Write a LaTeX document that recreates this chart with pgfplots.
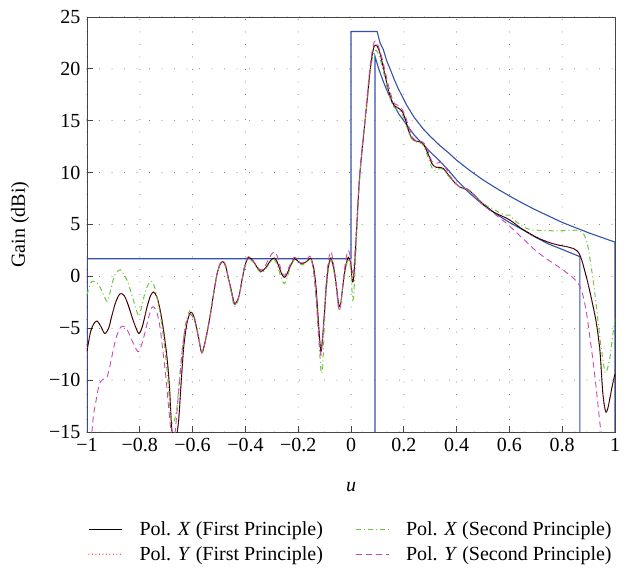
\documentclass[border=0pt]{standalone}
\usepackage{fontspec}
\setmainfont{Liberation Serif}
\usepackage{pgfplots}
\pgfplotsset{compat=1.18}
\usepackage{pgfplotstable}
\definecolor{maskblue}{RGB}{52,82,170}
\definecolor{mygreen}{RGB}{110,196,60}
\definecolor{mymag}{RGB}{204,72,176}
\definecolor{axgray}{RGB}{70,70,70}

\pgfplotstableread{
u g
-1.000 -7.2
-0.987 -5.4
-0.975 -4.6
-0.962 -4.3
-0.948 -4.8
-0.933 -5.5
-0.918 -5.0
-0.905 -3.7
-0.890 -2.4
-0.874 -1.66
-0.858 -1.9
-0.842 -2.9
-0.823 -4.4
-0.804 -5.5
-0.790 -4.8
-0.773 -3.0
-0.760 -1.9
-0.748 -1.5
-0.735 -2.0
-0.722 -3.35
-0.710 -5.2
-0.697 -7.8
-0.688 -10.5
-0.681 -13.9
-0.676 -15.5
-0.670 -17
-0.664 -16
-0.653 -13.9
-0.644 -10.5
-0.634 -6.9
-0.622 -4.6
-0.609 -3.5
-0.600 -3.6
-0.592 -4.15
-0.578 -5.8
-0.565 -7.35
-0.550 -6.0
-0.533 -3.7
-0.520 -1.6
-0.508 0.16
-0.497 1.1
-0.486 1.44
-0.475 1.0
-0.464 -0.2
-0.452 -1.5
-0.442 -2.6
-0.432 -2.4
-0.423 -1.77
-0.414 -0.5
-0.404 0.8
-0.396 1.5
-0.389 1.84
-0.378 1.7
-0.366 1.29
-0.354 0.8
-0.341 0.48
-0.328 0.7
-0.315 1.13
-0.302 1.6
-0.290 1.77
-0.280 1.4
-0.271 0.8
-0.262 0.2
-0.252 -0.1
-0.243 0.2
-0.233 0.8
-0.222 1.4
-0.214 1.71
-0.206 1.6
-0.199 1.39
-0.190 1.25
-0.183 1.23
-0.173 1.35
-0.164 1.52
-0.157 1.71
-0.151 1.71
-0.145 1.2
-0.139 0.48
-0.132 -1.2
-0.126 -3.39
-0.120 -5.6
-0.114 -7.26
-0.108 -6.0
-0.101 -3.7
-0.095 -1.4
-0.088 0.48
-0.082 1.4
-0.076 1.77
-0.070 1.3
-0.063 0.48
-0.055 -1.0
-0.048 -2.5
-0.044 -2.9
-0.038 -2.5
-0.032 -1.13
-0.025 0.2
-0.019 1.13
-0.014 1.6
-0.010 1.84
-0.005 1.6
0.000 1.13
0.004 -0.3
0.008 -0.5
0.012 0.5
0.018 3.0
0.031 9.0
0.042 12.2
0.053 14.9
0.063 17.5
0.072 19.8
0.080 21.3
0.088 22.2
0.095 22.3
0.103 22.0
0.110 21.5
0.120 20.4
0.129 19.4
0.138 18.3
0.148 17.4
0.158 16.7
0.167 16.4
0.177 16.25
0.186 16.1
0.196 15.8
0.205 15.2
0.214 14.4
0.223 13.7
0.232 13.25
0.242 13.07
0.255 13.0
0.268 12.9
0.278 12.6
0.287 12.1
0.297 11.5
0.306 10.9
0.316 10.6
0.325 10.5
0.338 10.5
0.350 10.4
0.362 10.0
0.375 9.6
0.394 9.0
0.413 8.6
0.428 8.45
0.444 8.35
0.460 8.0
0.476 7.6
0.495 7.1
0.514 6.7
0.540 6.2
0.564 5.9
0.590 5.6
0.615 5.2
0.640 4.7
0.666 4.3
0.700 3.8
0.741 3.35
0.780 3.05
0.817 2.86
0.845 2.65
0.862 2.3
0.875 1.5
0.886 0.47
0.896 -0.5
0.905 -1.5
0.918 -3.0
0.930 -4.6
0.943 -7.2
0.953 -11.0
0.960 -12.5
0.966 -13.1
0.973 -12.7
0.981 -11.7
0.990 -10.5
1.000 -9.4
}\polXfirst

\pgfplotstableread{
u g
-1.000 -1.76
-0.990 -0.9
-0.981 -0.48
-0.970 -0.5
-0.956 -0.8
-0.940 -1.6
-0.924 -2.4
-0.912 -1.5
-0.899 -0.16
-0.887 0.4
-0.874 0.64
-0.858 0.1
-0.842 -0.8
-0.823 -2.4
-0.804 -3.83
-0.792 -2.8
-0.779 -1.44
-0.766 -0.7
-0.754 -0.48
-0.742 -1.2
-0.729 -2.7
-0.716 -4.8
-0.703 -7.5
-0.692 -10.5
-0.684 -13.3
-0.676 -14.2
-0.668 -13.8
-0.659 -12.6
-0.650 -10.0
-0.640 -7.2
-0.628 -4.8
-0.615 -3.5
-0.605 -3.3
-0.592 -4.0
-0.578 -5.7
-0.565 -7.3
-0.550 -6.0
-0.533 -3.7
-0.520 -1.6
-0.508 0.1
-0.497 1.0
-0.486 1.35
-0.475 0.9
-0.464 -0.4
-0.452 -1.8
-0.442 -2.9
-0.432 -2.6
-0.423 -1.9
-0.414 -0.6
-0.404 0.7
-0.392 1.5
-0.385 1.7
-0.366 1.2
-0.354 0.7
-0.341 0.35
-0.328 0.55
-0.315 1.0
-0.302 1.45
-0.290 1.6
-0.280 1.1
-0.271 0.4
-0.262 -0.3
-0.252 -0.7
-0.243 -0.2
-0.233 0.6
-0.222 1.3
-0.214 1.6
-0.206 1.5
-0.199 1.3
-0.190 1.15
-0.183 1.1
-0.173 1.3
-0.164 1.5
-0.157 1.65
-0.151 1.6
-0.145 1.0
-0.139 0.0
-0.132 -2.0
-0.126 -4.2
-0.120 -6.8
-0.114 -9.0
-0.110 -9.3
-0.105 -7.5
-0.101 -4.8
-0.095 -2.0
-0.088 0.2
-0.082 1.2
-0.076 1.6
-0.070 1.1
-0.063 0.2
-0.055 -1.3
-0.048 -2.9
-0.044 -3.2
-0.038 -2.7
-0.032 -1.3
-0.025 0.0
-0.019 0.9
-0.014 1.4
-0.010 1.6
-0.005 1.3
0.000 0.4
0.004 -1.5
0.007 -2.3
0.011 -1.5
0.018 2.0
0.031 8.6
0.042 12.0
0.053 14.7
0.063 17.2
0.072 19.4
0.080 20.9
0.088 21.7
0.095 21.8
0.103 21.5
0.110 21.0
0.120 20.0
0.129 19.1
0.138 18.1
0.148 17.2
0.158 16.5
0.167 16.2
0.177 16.1
0.186 15.9
0.196 15.5
0.205 14.9
0.214 14.2
0.223 13.6
0.232 13.2
0.242 13.0
0.255 12.9
0.268 12.8
0.278 12.4
0.287 11.8
0.297 11.1
0.306 10.5
0.316 10.2
0.325 10.3
0.338 10.4
0.350 10.3
0.362 9.9
0.375 9.5
0.394 9.0
0.413 8.6
0.428 8.45
0.444 8.35
0.460 8.0
0.476 7.6
0.495 7.2
0.514 6.8
0.540 6.5
0.564 6.1
0.590 5.9
0.602 5.9
0.620 5.4
0.653 4.78
0.680 4.5
0.703 4.45
0.750 4.4
0.804 4.4
0.855 4.45
0.870 4.35
0.880 4.14
0.890 3.6
0.899 2.7
0.908 1.2
0.918 -0.48
0.928 -2.6
0.937 -4.6
0.945 -6.4
0.953 -7.8
0.962 -9.26
0.970 -9.0
0.981 -7.8
0.990 -6.0
1.000 -4.0
}\polXsecond

\pgfplotstableread{
u g
-0.985 -16
-0.981 -14.9
-0.975 -13.3
-0.968 -12.3
-0.958 -10.9
-0.950 -10.2
-0.937 -9.9
-0.924 -9.7
-0.912 -8.5
-0.899 -6.9
-0.887 -5.7
-0.874 -4.95
-0.862 -4.8
-0.849 -5.1
-0.836 -5.8
-0.823 -6.55
-0.812 -7.1
-0.804 -7.25
-0.792 -6.5
-0.779 -5.27
-0.766 -3.9
-0.754 -3.0
-0.745 -3.0
-0.735 -3.5
-0.724 -4.8
-0.714 -6.87
-0.702 -9.5
-0.691 -12.6
-0.681 -15.2
-0.674 -17
-0.668 -15.5
-0.660 -13.3
-0.650 -10.3
-0.640 -7.3
-0.628 -5.0
-0.615 -3.8
-0.605 -3.7
-0.592 -4.3
-0.578 -5.9
-0.565 -7.4
-0.550 -6.1
-0.533 -3.8
-0.520 -1.6
-0.508 0.2
-0.497 1.2
-0.486 1.5
-0.475 1.1
-0.464 -0.2
-0.452 -1.6
-0.442 -2.7
-0.432 -2.5
-0.423 -1.8
-0.414 -0.5
-0.404 0.9
-0.396 1.6
-0.389 1.9
-0.378 1.75
-0.366 1.35
-0.354 0.9
-0.341 0.6
-0.328 0.9
-0.315 1.5
-0.302 2.1
-0.290 2.35
-0.280 2.0
-0.271 1.2
-0.262 0.4
-0.252 0.1
-0.243 0.4
-0.233 1.0
-0.222 1.6
-0.214 1.85
-0.206 1.7
-0.199 1.45
-0.190 1.3
-0.183 1.3
-0.173 1.5
-0.164 1.75
-0.157 1.95
-0.151 1.8
-0.145 1.0
-0.139 -0.2
-0.132 -2.2
-0.126 -4.5
-0.120 -6.5
-0.114 -7.6
-0.108 -6.2
-0.101 -3.6
-0.095 -1.0
-0.088 1.0
-0.082 2.0
-0.076 2.4
-0.070 1.8
-0.063 0.6
-0.055 -1.1
-0.048 -2.9
-0.044 -3.3
-0.038 -2.6
-0.032 -1.0
-0.025 0.6
-0.019 1.7
-0.014 2.3
-0.010 2.5
-0.005 2.2
0.000 1.4
0.004 0.5
0.008 0.4
0.012 1.2
0.018 3.5
0.031 9.2
0.042 12.4
0.053 15.2
0.063 17.9
0.072 20.2
0.080 21.7
0.088 22.6
0.095 22.6
0.103 22.2
0.110 21.7
0.120 20.8
0.129 19.8
0.138 18.8
0.148 17.8
0.158 17.0
0.167 16.6
0.177 16.5
0.186 16.35
0.196 16.0
0.205 15.5
0.214 14.8
0.223 14.1
0.232 13.4
0.242 13.15
0.255 13.05
0.268 13.0
0.278 12.8
0.287 12.4
0.297 11.7
0.306 11.1
0.316 10.9
0.325 10.9
0.338 11.0
0.350 10.8
0.362 10.3
0.375 9.7
0.394 9.0
0.413 8.6
0.428 8.5
0.444 8.4
0.460 8.0
0.476 7.6
0.495 7.0
0.514 6.6
0.540 6.1
0.564 5.6
0.590 5.1
0.615 4.5
0.640 3.9
0.653 3.6
0.690 2.7
0.729 1.9
0.770 1.2
0.804 0.6
0.830 0.1
0.848 -0.3
0.867 -0.96
0.877 -1.7
0.886 -2.7
0.895 -4.0
0.905 -5.9
0.915 -7.8
0.924 -9.7
0.934 -12.0
0.943 -14.2
0.949 -15.3
0.955 -17
}\polYsecond

\pgfplotstableread{
u g
-1 -15
-1 1.7
0 1.7
0 23.6
0.099 23.6
0.11 22.5
0.122 21.9
0.135 20.8
0.148 20.0
0.165 18.9
0.179 18.1
0.195 17.3
0.211 16.5
0.24 15.3
0.274 14.2
0.30 13.5
0.337 12.6
0.37 11.9
0.40 11.2
0.45 10.2
0.50 9.3
0.55 8.5
0.60 7.75
0.65 7.05
0.70 6.4
0.75 5.8
0.80 5.2
0.85 4.7
0.90 4.2
0.95 3.75
1.00 3.3
1.00 -15
}\maskup

\pgfplotstableread{
u g
0.091 -15
0.091 21.2
0.105 20.0
0.122 18.8
0.138 17.8
0.154 16.9
0.18 15.7
0.211 14.6
0.24 13.6
0.274 12.7
0.30 12.0
0.337 11.1
0.37 10.2
0.40 9.3
0.45 8.0
0.50 6.9
0.55 6.0
0.60 5.2
0.65 4.5
0.70 3.75
0.75 3.1
0.80 2.6
0.867 1.9
0.867 -15
}\masklow

\begin{document}
\begin{tikzpicture}
\begin{axis}[
  name=ax,
  scale only axis,
  width=528pt, height=415pt,
  xmin=-1, xmax=1, ymin=-15, ymax=25,
  xtick={-1,-0.8,-0.6,-0.4,-0.2,0,0.2,0.4,0.6,0.8,1},
  xticklabels={−1,−0.8,−0.6,−0.4,−0.2,0,0.2,0.4,0.6,0.8,1},
  ytick={-15,-10,-5,0,5,10,15,20,25},
  yticklabels={−15,−10,−5,0,5,10,15,20,25},
  xtick pos=bottom, ytick pos=left,
  tick align=inside,
  major tick length=6pt,
  tick style={axgray, line width=0.8pt},
  axis line style={axgray, line width=0.9pt},
  xmajorgrids, ymajorgrids,
  major grid style={gray!85!black, line width=1pt, line cap=round, dash pattern=on 0pt off 12.5pt},
  tick label style={font=\fontsize{20}{23}\selectfont},
  xticklabel style={yshift=-3pt},
  yticklabel style={xshift=-3pt},
  label style={font=\fontsize{20}{23}\selectfont},
  xlabel={\textit{u}},
  ylabel={Gain (dBi)},
  xlabel style={at={(axis description cs:0.5,-0.1325)}, anchor=center},
  ylabel style={at={(axis description cs:-0.127,0.5)}, anchor=center},
  legend columns=2,
  legend style={draw=none, fill=none, at={(0.5,-0.207)}, anchor=north,
    font=\fontsize{20}{23}\selectfont,
    /tikz/every odd column/.append style={column sep=15pt},
    /tikz/every even column/.append style={column sep=30pt},
    row sep=5pt},
  legend cell align=left,
  legend image code/.code={\draw[#1] (0pt,0pt) -- (33pt,0pt);},
  clip=true,
]
\addplot[maskblue, line width=1.1pt, forget plot] table[x=u,y=g] {\maskup};
\addplot[maskblue, line width=1.1pt, forget plot] table[x=u,y=g] {\masklow};
\addplot[black, line width=0.9pt, smooth, tension=0.5] table[x=u,y=g] {\polXfirst};
\addlegendentry{Pol. \textit{X} (First Principle)}
\addplot[mygreen, line width=1pt, smooth, tension=0.5, dash pattern=on 5pt off 3pt on 1pt off 3pt] table[x=u,y=g] {\polXsecond};
\addlegendentry{Pol. \textit{X} (Second Principle)}
\addplot[red, line width=1.2pt, line cap=round, smooth, tension=0.5, dash pattern=on 0pt off 3.5pt] table[x=u,y=g] {\polXfirst};
\addlegendentry{Pol. \textit{Y} (First Principle)}
\addplot[mymag, line width=0.9pt, smooth, tension=0.5, dash pattern=on 6pt off 4pt] table[x=u,y=g] {\polYsecond};
\addlegendentry{Pol. \textit{Y} (Second Principle)}
\end{axis}
\path (ax.south west) ++(-87pt,-135pt) coordinate (bl);
\path (ax.north east) ++(13pt,17pt) coordinate (tr);
\path (bl) rectangle (tr);
\end{tikzpicture}
\end{document}
